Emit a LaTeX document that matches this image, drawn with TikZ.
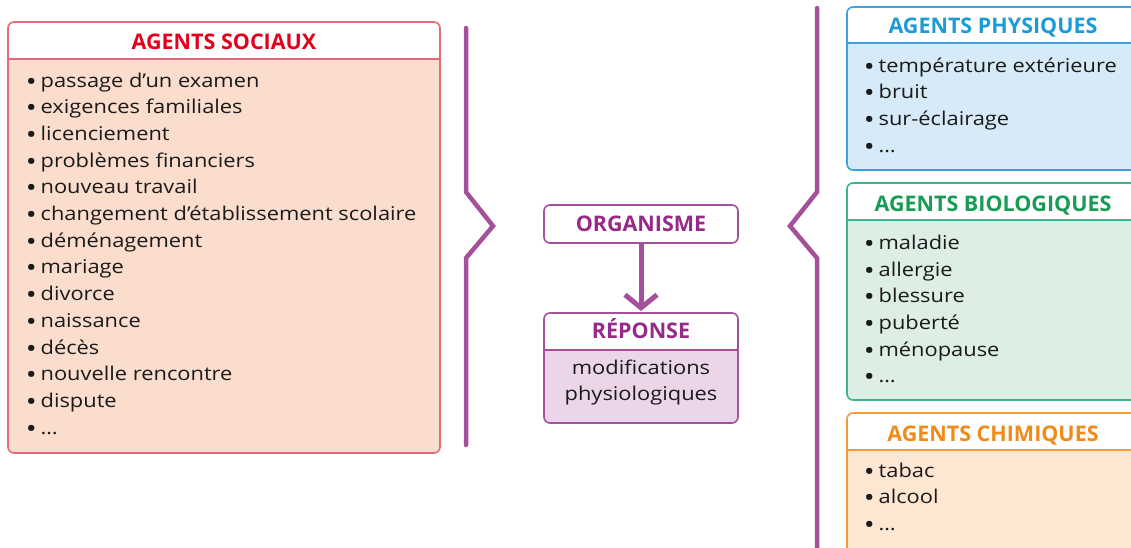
\documentclass[tikz,border=0pt]{standalone}
\usepackage{fontspec}
\setmainfont{Open Sans}
\newfontfamily\bodyfont{Open Sans}[FakeStretch=1.15]
\newfontfamily\bulfont{Open Sans}[FakeStretch=1.15]
\usetikzlibrary{arrows.meta}
\definecolor{txt}{HTML}{1A1A1A}
\definecolor{socB}{HTML}{E8697C}
\definecolor{socF}{HTML}{FADDCD}
\definecolor{socT}{HTML}{E2001A}
\definecolor{phyB}{HTML}{3DA3DE}
\definecolor{phyF}{HTML}{D6EAF8}
\definecolor{phyT}{HTML}{1D9BD7}
\definecolor{bioB}{HTML}{3BB58A}
\definecolor{bioF}{HTML}{DDEEE5}
\definecolor{bioT}{HTML}{1A9B55}
\definecolor{chiB}{HTML}{F39A3B}
\definecolor{chiF}{HTML}{FDE6D2}
\definecolor{chiT}{HTML}{F28A18}
\definecolor{purB}{HTML}{A5509A}
\definecolor{purF}{HTML}{EAD6E8}
\definecolor{purT}{HTML}{962A88}
\newcommand{\bul}{\raisebox{-1pt}{\bulfont\bfseries\fontsize{19.5}{22}\selectfont •}\hspace{5pt}}
\tikzset{
  item/.style={anchor=base west, inner sep=0pt, text=txt,
               font=\bodyfont\fontsize{19}{26.7}\selectfont},
  head/.style={anchor=base, inner sep=0pt,
               font=\fontsize{21.5}{26}\selectfont\bfseries},
  frame/.style={line width=1.6pt, rounded corners=6pt},
  bracket/.style={draw=purB, line width=4.5pt, line cap=round, line join=miter},
}
\newcommand{\agentbox}[8]{% x1,y1,x2,hy,y2,border,fill,title-color
  \fill[#7, rounded corners=6pt] (#1,#2) rectangle (#3,#5);
  \fill[white, rounded corners=6pt] (#1,#2) rectangle (#3,#4);
  \draw[#6, line width=1.6pt] (#1,#4) -- (#3,#4);
  \draw[#6, frame] (#1,#2) rectangle (#3,#5);
}
\begin{document}
\begin{tikzpicture}[x=1pt,y=-1pt]
\useasboundingbox (0,0) rectangle (1131,547);
\clip (0,0) rectangle (1131,547);
\fill[white] (0,0) rectangle (1131,547);

% ---------- Agents sociaux
\agentbox{8}{22}{440}{59}{453}{socB}{socF}{socT}
\node[head, text=socT] (hsoc) at (224,49.5) {AGENTS SOCIAUX};
\node[item] (s1)  at (27,87)    {\bul passage d’un examen};
\node[item] (s2)  at (27,113.7) {\bul exigences familiales};
\node[item] (s3)  at (27,140.4) {\bul licenciement};
\node[item] (s4)  at (27,167.1) {\bul problèmes financiers};
\node[item] (s5)  at (27,193.8) {\bul nouveau travail};
\node[item] (s6)  at (27,220.5) {\bul changement d’établissement scolaire};
\node[item] (s7)  at (27,247.2) {\bul déménagement};
\node[item] (s8)  at (27,273.9) {\bul mariage};
\node[item] (s9)  at (27,300.6) {\bul divorce};
\node[item] (s10) at (27,327.3) {\bul naissance};
\node[item] (s11) at (27,354)   {\bul décès};
\node[item] (s12) at (27,380.7) {\bul nouvelle rencontre};
\node[item] (s13) at (27,407.4) {\bul dispute};
\node[item] (s14) at (27,434.1) {\bul …};

% ---------- brackets
\coordinate (lb1) at (466,28);
\coordinate (lb2) at (466,192);
\coordinate (lb3) at (493,226);
\coordinate (lb4) at (466,258);
\coordinate (lb5) at (466,445);
\draw[bracket] (lb1) -- (lb2) -- (lb3) -- (lb4) -- (lb5);
\coordinate (rb1) at (817,8);
\coordinate (rb2) at (817,192);
\coordinate (rb3) at (790,226);
\coordinate (rb4) at (817,258);
\coordinate (rb5) at (817,560);
\draw[bracket] (rb1) -- (rb2) -- (rb3) -- (rb4) -- (rb5);

% ---------- centre
\node[draw=purB, fill=white, line width=1.6pt, rounded corners=6pt,
      minimum width=194pt, minimum height=38pt, inner sep=0pt,
      text=purT, text height=15.3pt, text depth=0pt,
      font=\fontsize{21.5}{26}\selectfont\bfseries] (org) at (641,224) {ORGANISME};
\agentbox{544}{313}{738}{350}{423}{purB}{purF}{purT}
\node[head, text=purT] (rep) at (641,338.5) {RÉPONSE};
\node[item, anchor=base] (mod1) at (641,374) {modifications};
\node[item, anchor=base] (mod2) at (641,400.5) {physiologiques};
\draw[draw=purB, line width=5pt, -{Straight Barb[length=13pt,width=32pt,line width=5pt]}] (org.south) -- (641,311);

% ---------- Agents physiques
\agentbox{847}{7}{1145}{43}{170}{phyB}{phyF}{phyT}
\node[head, text=phyT] (hphy) at (993,33.3) {AGENTS PHYSIQUES};
\node[item] (p1) at (865,72)    {\bul température extérieure};
\node[item] (p2) at (865,98.7)  {\bul bruit};
\node[item] (p3) at (865,125.4) {\bul sur-éclairage};
\node[item] (p4) at (865,152.1) {\bul …};

% ---------- Agents biologiques
\agentbox{847}{183}{1145}{220}{400}{bioB}{bioF}{bioT}
\node[head, text=bioT] (hbio) at (993,211.5) {AGENTS BIOLOGIQUES};
\node[item] (b1) at (865,249.3) {\bul maladie};
\node[item] (b2) at (865,276)   {\bul allergie};
\node[item] (b3) at (865,302.7) {\bul blessure};
\node[item] (b4) at (865,329.4) {\bul puberté};
\node[item] (b5) at (865,356.1) {\bul ménopause};
\node[item] (b6) at (865,382.8) {\bul …};

% ---------- Agents chimiques
\agentbox{847}{413}{1145}{450}{580}{chiB}{chiF}{chiT}
\node[head, text=chiT] (hchi) at (993,441.7) {AGENTS CHIMIQUES};
\node[item] (c1) at (865,477)   {\bul tabac};
\node[item] (c2) at (865,503.7) {\bul alcool};
\node[item] (c3) at (865,530.4) {\bul …};
\end{tikzpicture}
\end{document}
